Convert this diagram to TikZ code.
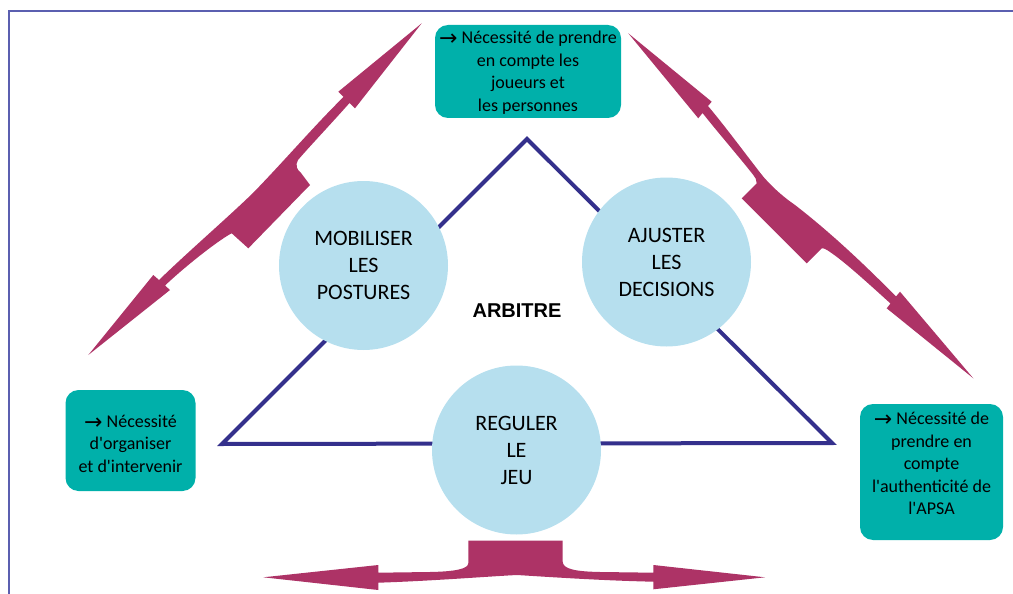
\documentclass[tikz,border=0pt]{standalone}
\usepackage{fontspec}
\newfontfamily\calfont{Carlito}
\newfontfamily\arrfont{DejaVu Sans}
\newfontfamily\boldsans{Liberation Sans}
\newcommand{\myarrow}{\raisebox{-2.2pt}{\arrfont\fontsize{22}{22}\selectfont\char"2192}}
\definecolor{magcol}{HTML}{AD3366}
\definecolor{tealcol}{HTML}{00B0AA}
\definecolor{bluecol}{HTML}{B6DFEE}
\definecolor{tricol}{HTML}{34308C}
\definecolor{framecol}{HTML}{5B5FB0}
\tikzset{
  circ/.style={circle, fill=bluecol, minimum size=169pt, inner sep=0pt, align=center, font=\calfont\fontsize{22}{27}\selectfont},
  tbox/.style={rectangle, rounded corners=13pt, fill=tealcol, inner sep=0pt},
  btext/.style={align=center, inner sep=0pt, font=\calfont\fontsize{18}{22.5}\selectfont},
  dblarrow/.style={fill=magcol}
}
\begin{document}
\begin{tikzpicture}[x=1pt,y=-1pt]
\useasboundingbox (0,0) rectangle (1013,594);
% frame
\coordinate (f1) at (9,594);
\coordinate (f2) at (9,11);
\coordinate (f3) at (1013,11);
\draw[framecol, line width=1.3pt] (f1) -- (f2) -- (f3);
% triangle
\coordinate (apex) at (527,139);
\coordinate (br) at (832,443);
\coordinate (bl) at (222,444);
\draw[tricol, line width=4pt, line join=miter] (apex) -- (br) -- (bl) -- cycle;
% circles
\node[circ] (mob) at (363.5,265.5) {MOBILISER\\LES\\POSTURES};
\node[circ] (aju) at (666.5,262) {AJUSTER\\LES\\DECISIONS};
\node[circ] (reg) at (516.5,450) {REGULER\\LE\\JEU};
\node[font=\boldsans\bfseries\fontsize{20}{24}\selectfont] (arb) at (517,311) {ARBITRE};
% left double arrow
\fill[dblarrow] (421.7,23.3) -- (355,108.3) -- (349.5,103)
  .. controls (330,125) and (310,146) .. (298,160)
  .. controls (295,165) and (297,170) .. (301,173)
  -- (310,185) -- (248.3,248.3) -- (231.7,233.3)
  .. controls (222,238) and (190,262) .. (165,285.5)
  -- (170,290) -- (88.3,355) -- (153.3,275) -- (159,280)
  .. controls (190,250) and (225,220) .. (253,193)
  .. controls (285,160) and (315,125) .. (343.5,97)
  -- (338.3,91.7) -- cycle;
% right double arrow
\fill[dblarrow] (628.3,33.3) -- (711.7,101.7) -- (708,106)
  .. controls (725,126) and (750,160) .. (763.3,176.7)
  .. controls (775,190) and (785,198) .. (795,205)
  .. controls (830,232) and (865,265) .. (896,296.5)
  -- (900,291.7) -- (973.3,378.3) -- (886.7,308.3) -- (890.5,303.5)
  .. controls (870,285) and (845,262) .. (830,252)
  .. controls (826,249) and (823,248) .. (821.7,248.3)
  -- (806.7,263.3) -- (741.7,198.3) -- (756.7,183.3)
  .. controls (757,180) and (755,177) .. (753.3,175)
  .. controls (740,158) and (720,135) .. (702.5,113)
  -- (698.3,118.3) -- cycle;
% bottom double arrow
\fill[dblarrow] (468.3,540.7) -- (562.7,540.7) -- (562.7,561.7)
  .. controls (563,569) and (575,571.5) .. (600,572) -- (653.3,572.7)
  -- (653.3,565) -- (765,577.3) -- (653.3,589.3) -- (653.3,581.7)
  .. controls (600,580.5) and (550,577) .. (516.7,575)
  .. controls (480,577) and (430,581) .. (378.3,582.7)
  -- (378.3,590) -- (263.3,577.3) -- (378.3,565) -- (378.3,572.7)
  -- (430,572) .. controls (455,571.5) and (468,569) .. (468.3,563.3)
  -- cycle;
% teal boxes
\node[tbox, minimum width=186pt, minimum height=93pt] (topbox) at (528,71.5) {};
\node[btext] (toptext) at (528,72.5) {\myarrow{} Nécessité de prendre\\en compte les\\joueurs et\\les personnes};
\node[tbox, minimum width=130pt, minimum height=101pt] (leftbox) at (130.5,440.5) {};
\node[btext] (lefttext) at (130.5,443.5) {\myarrow{} Nécessité\\d'organiser\\et d'intervenir};
\node[tbox, minimum width=143pt, minimum height=136pt] (rightbox) at (931.5,472) {};
\node[btext] (righttext) at (931.5,463.5) {\myarrow{} Nécessité de\\prendre en\\compte\\l'authenticité de\\l'APSA};
\end{tikzpicture}
\end{document}
